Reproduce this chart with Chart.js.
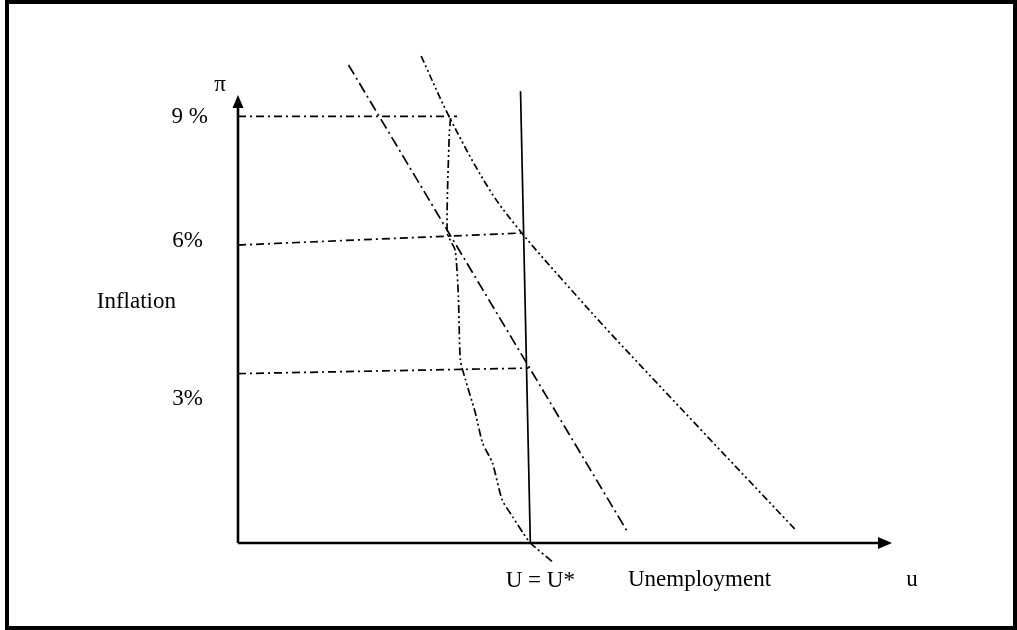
<!DOCTYPE html>
<html>
<head>
<meta charset="utf-8">
<script src="https://cdn.jsdelivr.net/npm/chart.js@4"></script>
<style>
  html, body { margin: 0; padding: 0; background: #fff; }
  #wrap { position: relative; width: 1017px; height: 630px; overflow: hidden; }
  #frame {
    position: absolute; left: 5px; top: 0; width: 1012px; height: 630px;
    border: 4px solid #000; box-sizing: border-box; pointer-events: none;
  }
  canvas { position: absolute; left: 0; top: 0; }
</style>
</head>
<body>
<div id="wrap">
  <canvas id="phillips" width="1017" height="630"></canvas>
  <div id="frame"></div>
</div>
<script>
// axis extents (unemployment, inflation)
const uAxis = [0, 10];
const piAxis = [-0.95, 9.5];

// inflation levels marked on the vertical axis
const piTicks = [9, 6, 3];
const piTickLabels = ['9 %', '6%', '3%'];

// horizontal guides run from the axis to the curves
const guideEndU = [3.35, 4.33, 4.44];
const guideEndPi = [9, 6.28, 3.13];

// long-run curve at the natural rate
const naturalU = [4.32, 4.47];
const naturalPi = [9.59, -0.95];

// short-run curve (low expectations)
const pcLowU = [1.69, 5.94];
const pcLowPi = [10.2, -0.65];

// short-run curve (high expectations)
const pcHighU = [2.80, 3.24, 3.85, 4.34, 5.00, 5.69, 7.08, 8.53];
const pcHighPi = [10.41, 8.96, 7.28, 6.28, 5.12, 3.95, 1.69, -0.65];

// disinflation path back down to U*
const pathU = [3.25, 3.23, 3.20, 3.32, 3.37, 3.40, 3.48, 3.63, 3.74, 3.89, 4.04, 4.20, 4.36, 4.47, 4.81];
const pathPi = [8.96, 8.57, 6.28, 5.88, 4.79, 3.32, 2.85, 2.08, 1.38, 0.92, 0.05, -0.34, -0.72, -0.95, -1.39];

const zip = (xs, ys) => xs.map((x, i) => ({ x: x, y: ys[i] }));

const FONT = '23px "Liberation Serif", "Times New Roman", serif';

function line(data, dash, width, tension) {
    return {
        data: data,
        showLine: true,
        borderColor: '#000',
        borderWidth: width || 1.7,
        borderDash: dash || [],
        pointRadius: 0,
        tension: tension || 0,
        clip: false
    };
}

const datasets = [];
piTicks.forEach((p, i) => {
    datasets.push(line([{ x: uAxis[0], y: p }, { x: guideEndU[i], y: guideEndPi[i] }], [8, 4, 2, 4]));
});
datasets.push(line(zip(naturalU, naturalPi), [], 1.7));
datasets.push(line(zip(pcLowU, pcLowPi), [11, 4, 2, 4]));
datasets.push(line(zip(pcHighU, pcHighPi), [7, 3, 2, 3, 2, 3], 1.7, 0.35));
datasets.push(line(zip(pathU, pathPi), [8, 3, 2, 3, 2, 3], 1.7, 0.2));

// axes with arrow heads, plus all the text
const axesPlugin = {
    id: 'axesPlugin',
    afterDatasetsDraw(chart) {
        const { ctx, scales: { x, y } } = chart;
        const x0 = x.getPixelForValue(uAxis[0]);
        const x1 = x.getPixelForValue(uAxis[1]);
        const y0 = y.getPixelForValue(piAxis[0]);
        const y1 = y.getPixelForValue(piAxis[1]);

        ctx.save();
        ctx.strokeStyle = '#000';
        ctx.fillStyle = '#000';
        ctx.lineWidth = 2.6;
        ctx.beginPath();
        ctx.moveTo(x0, y0);
        ctx.lineTo(x0, y1 + 10);
        ctx.moveTo(x0, y0);
        ctx.lineTo(x1 - 12, y0);
        ctx.stroke();

        ctx.beginPath();
        ctx.moveTo(x0, y1);
        ctx.lineTo(x0 - 5.5, y1 + 13);
        ctx.lineTo(x0 + 5.5, y1 + 13);
        ctx.closePath();
        ctx.fill();

        ctx.beginPath();
        ctx.moveTo(x1, y0);
        ctx.lineTo(x1 - 14, y0 - 6);
        ctx.lineTo(x1 - 14, y0 + 6);
        ctx.closePath();
        ctx.fill();

        ctx.font = FONT;
        ctx.textBaseline = 'alphabetic';

        ctx.textAlign = 'right';
        const tickDx = [-30, -35, -35];
        const tickDy = [7, 2, 31];
        piTicks.forEach((p, i) => {
            ctx.fillText(piTickLabels[i], x0 + tickDx[i], y.getPixelForValue(p) + tickDy[i]);
        });
        ctx.fillText('Inflation', x0 - 62, y.getPixelForValue(4.7) + 7);

        ctx.textAlign = 'center';
        ctx.fillText('\u03c0', x0 - 18, y1 - 4);
        ctx.fillText('U = U*', x.getPixelForValue(naturalU[1]) + 10, y0 + 44);
        ctx.fillText('u', x1 + 20, y0 + 43);
        ctx.textAlign = 'left';
        ctx.fillText('Unemployment', x0 + 390, y0 + 43);
        ctx.restore();
    }
};

new Chart(document.getElementById('phillips'), {
    type: 'scatter',
    data: { datasets: datasets },
    options: {
        responsive: false,
        animation: false,
        layout: { padding: { left: 238, right: 125, top: 95, bottom: 87 } },
        plugins: { legend: { display: false }, tooltip: { enabled: false } },
        scales: {
            x: { type: 'linear', min: uAxis[0], max: uAxis[1], display: false },
            y: { type: 'linear', min: piAxis[0], max: piAxis[1], display: false }
        }
    },
    plugins: [axesPlugin]
});
</script>
</body>
</html>
